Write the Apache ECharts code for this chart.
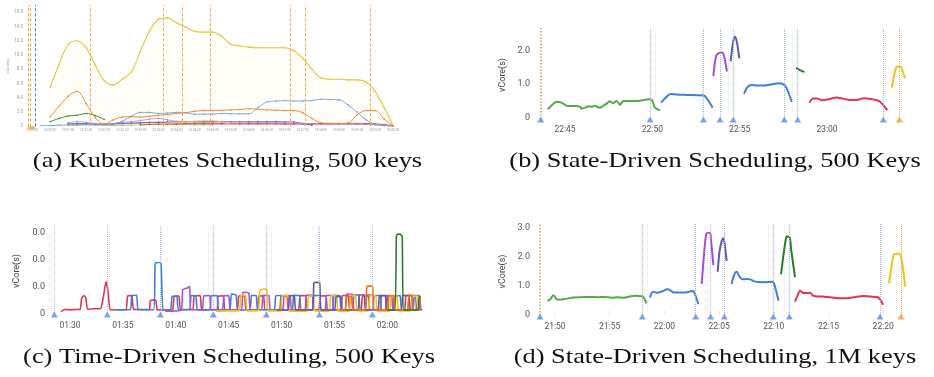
<!DOCTYPE html>
<html><head><meta charset="utf-8">
<script src="https://cdn.jsdelivr.net/npm/echarts@6/dist/echarts.min.js"></script>
<style>html,body{margin:0;padding:0;background:#fff}#c{width:934px;height:377px}</style>
</head><body><div id="c"></div>
<script>
// ---------- Panel (a): Kubernetes Scheduling, 500 keys (seconds after 23:50:00) ----------
const timesA = [0,15,30,45,60,75,90,105,120,135,150,165,180,195,210,225,240,255,270,285,300,315,330,345,360,375,390,405,420,435,450,465,480,495,510,525,540,555,570,585,600];
const tickA = [0,30,60,90,120,150,180,210,240,270,300,330,360,390,420,450,480,510,540,570,600];
const labelsA = ['23:50:00','23:50:30','23:51:00','23:51:30','23:52:00','23:52:30','23:53:00','23:53:30','23:54:00','23:54:30','23:55:00','23:55:30','23:56:00','23:56:30','23:57:00','23:57:30','23:58:00','23:58:30','23:59:00','23:59:30','00:00:00'];
const yTickA = [0,2,4,6,8,10,12,14,16];
const yellowA = [null,null,5.4,8.7,11.5,12.0,11.0,8.6,6.4,5.8,6.6,7.6,10.5,13.3,15.0,15.2,14.5,13.9,13.3,13.2,13.2,12.6,11.5,11.3,11.1,11.0,11.0,11.0,11.0,10.6,9.5,8.0,6.8,6.6,6.6,6.5,6.5,6.2,4.9,2.6,0.05];
const orangeA = [null,null,1.3,2.8,4.2,4.9,3.2,1.2,0.3,0.9,1.3,1.35,1.3,1.4,1.55,1.65,1.8,1.9,2.1,2.2,2.2,2.25,2.3,2.35,2.45,2.4,2.3,2.25,2.2,2.2,1.9,1.1,0.5,0.4,0.4,0.45,1.6,2.2,2.2,1.0,0.1];
const greenA = [null,null,0.65,1.1,1.45,1.55,1.8,1.5,0.95,null,null,null,null,null,null,null,null,null,null,null,null,null,null,null,null,null,null,null,null,null,null,null,null,null,null,null,null,null,null,null,null];
const blueA = [null,0.1,0.1,0.15,0.2,0.2,0.25,0.2,0.2,0.35,0.7,1.4,1.95,1.95,1.8,1.85,1.95,1.9,1.7,1.7,1.7,1.8,1.75,1.75,1.75,2.6,3.4,3.55,3.6,3.55,3.55,3.6,3.8,3.75,3.7,3.0,2.0,0.9,0.3,0.1,0.05];
const purpleA = [null,null,null,null,0.5,0.65,0.55,0.4,0.3,0.4,0.55,0.65,0.8,1.0,1.1,0.9,0.7,0.65,0.6,0.55,0.55,0.6,0.6,0.6,0.55,0.55,0.5,0.5,0.5,0.45,0.4,0.35,0.3,0.3,0.3,0.3,0.3,0.25,0.2,0.1,0.05];
const navyA = [null,null,null,null,0.35,0.4,0.35,0.3,0.3,0.35,0.4,0.45,0.5,0.55,0.55,0.6,0.62,0.62,0.65,0.65,0.65,0.65,0.65,0.65,0.65,0.65,0.65,0.65,0.62,0.6,0.4,0.15,null,null,null,null,null,null,null,null,null];
const pinkA = [null,null,null,null,0.25,0.3,0.35,0.3,0.25,0.3,0.35,0.4,0.45,0.5,0.55,0.5,0.45,0.4,0.4,0.4,0.35,0.35,0.35,0.35,0.35,0.35,0.35,0.35,0.3,0.3,0.3,0.3,0.3,0.3,0.3,0.3,0.3,0.3,0.25,0.15,0.05];
const redA = [null,null,null,null,null,null,null,null,null,null,null,null,0.2,0.25,0.3,0.3,0.3,0.35,0.35,0.35,0.35,0.35,0.35,0.35,0.35,0.35,0.35,0.35,0.35,0.35,0.35,0.35,0.4,0.4,0.4,0.4,0.4,0.4,0.35,0.25,0.1];
const yellow2A = [null,null,null,null,null,null,null,null,null,null,null,null,null,null,null,0.45,0.55,0.6,0.7,0.8,0.8,0.6,0.3,null,null,null,null,null,null,null,null,null,null,null,null,null,null,null,null,null,null];
const greenLtA = [null,null,null,null,0.1,0.15,0.2,0.2,0.15,0.1,0.1,0.15,0.2,0.25,0.3,0.3,0.3,0.25,0.2,0.2,0.2,null,null,null,null,null,null,null,null,null,null,null,null,null,null,null,null,null,null,null,null];
const eventsA = [-5.8,-3.3,5,96.3,218.3,248.8,295.7,429.7,453.5,561.5];
const markerA = [-1];

// ---------- Panel (b): State-Driven Scheduling, 500 Keys (minutes after 22:45) ----------
const tickB = [0,5,10,15];
const labelsB = ['22:45','22:50','22:55','23:00'];
const yTickB = [0,1,2];
const greenB = [[-0.99,0.25],[-0.7,0.4],[-0.48,0.48],[-0.2,0.45],[0.1,0.36],[0.5,0.35],[0.86,0.33],[0.95,0.27],[1.15,0.3],[1.34,0.34],[1.55,0.33],[1.72,0.36],[1.85,0.32],[2.0,0.3],[2.2,0.36],[2.39,0.42],[2.55,0.49],[2.75,0.44],[2.96,0.5],[3.15,0.38],[3.3,0.49],[3.5,0.5],[3.8,0.5],[4.1,0.5],[4.48,0.52],[4.77,0.55],[4.96,0.54],[5.15,0.3],[5.44,0.22]];
const blue1B = [[5.5,0.45],[5.8,0.62],[6.05,0.71],[6.4,0.69],[7.0,0.68],[7.6,0.67],[7.95,0.66],[8.15,0.55],[8.45,0.3]];
const purpleB = [[8.49,1.24],[8.65,1.85],[8.8,1.93],[9.0,1.95],[9.1,1.85],[9.27,1.38]];
const slateB = [[9.48,1.68],[9.62,2.25],[9.72,2.42],[9.82,2.3],[9.98,1.77]];
const blue2B = [[10.25,0.71],[10.45,0.92],[10.7,0.98],[11.0,0.96],[11.4,0.96],[11.8,0.99],[12.2,1.03],[12.45,1.01],[12.65,0.92],[12.98,0.47]];
const dgreenB = [[13.22,1.49],[13.45,1.42],[13.7,1.36]];
const redB = [[13.99,0.45],[14.2,0.57],[14.45,0.57],[14.7,0.52],[15.1,0.55],[15.55,0.6],[15.9,0.57],[16.3,0.53],[16.7,0.53],[17.1,0.58],[17.5,0.56],[17.85,0.52],[18.05,0.47],[18.45,0.23]];
const yellowB = [[18.7,0.9],[18.9,1.4],[19.0,1.52],[19.2,1.52],[19.32,1.4],[19.46,1.18]];
const eventsB = [-1.39,4.87,7.92,8.87,9.63,12.55,13.32,18.22,19.14];

// ---------- Panel (c): Time-Driven Scheduling, 500 Keys (minutes after 01:30) ----------
const tickC = [0,5,10,15,20,25,30];
const labelsC = ['01:30','01:35','01:40','01:45','01:50','01:55','02:00'];
const yTickC = [0,0.01,0.02,0.03];
const redC = [[-0.85,0.0006],[-0.5,0.0014],[0,0.0013],[0.5,0.0014],[0.95,0.0014],[1.1,0.0055],[1.3,0.0066],[1.5,0.0058],[1.65,0.0015],[2.2,0.0017],[2.9,0.0018],[3.15,0.006],[3.4,0.0118],[3.6,0.008],[3.8,0.0013],[4.5,0.0013],[5.3,0.0014],[5.45,0.0065],[5.85,0.0066],[6.0,0.0015],[6.7,0.0014],[7.5,0.0015],[7.6,0.0048],[8.1,0.0049],[8.25,0.0013],[9.0,0.0012],[9.7,0.0014],[9.85,0.0063],[10.3,0.0064],[10.45,0.0015],[11.6,0.0014],[11.75,0.0065],[12.3,0.0066],[12.45,0.0014],[13.0,0.0013],[13.9,0.0014],[14.0,0.0064],[14.5,0.0065],[14.65,0.0013],[15.8,0.0013],[15.95,0.0064],[16.5,0.0065],[16.65,0.0012],[17.7,0.0013],[17.85,0.0065],[18.3,0.0064],[18.45,0.0013],[19.8,0.0012],[19.95,0.0064],[20.5,0.0065],[20.65,0.0013],[21.6,0.0013],[21.75,0.0066],[22.3,0.0065],[22.45,0.0014],[23.5,0.0013],[23.65,0.0064],[24.2,0.0065],[24.35,0.0012],[25.6,0.0013],[25.75,0.0066],[26.3,0.0066],[26.45,0.0014],[27.5,0.0013],[27.65,0.0065],[28.2,0.0064],[28.35,0.0013],[29.3,0.0012],[29.45,0.0066],[30.0,0.0066],[30.15,0.0013],[31.6,0.0012],[31.75,0.0064],[32.3,0.0067],[32.45,0.0014],[33.3,0.0013]];
const blueC = [[4.25,0.0013],[5.7,0.0013],[5.85,0.0066],[6.3,0.0067],[6.45,0.0013],[7.9,0.0013],[8.05,0.0185],[8.3,0.0189],[8.6,0.0186],[8.8,0.0013],[9.5,0.0013],[9.65,0.0063],[10.1,0.0064],[10.25,0.0013],[11.3,0.0013],[11.45,0.0066],[11.9,0.0065],[12.05,0.0012],[13.2,0.0013],[13.35,0.0065],[13.9,0.0066],[14.05,0.0013],[15.1,0.0014],[15.25,0.0072],[15.7,0.0068],[15.85,0.0012],[17.0,0.0013],[17.15,0.0066],[17.6,0.0066],[17.75,0.0013],[19.3,0.0013],[19.45,0.0065],[19.9,0.0066],[20.05,0.0012],[21.0,0.0012],[21.15,0.0067],[21.7,0.0066],[21.85,0.0013],[22.9,0.0013],[23.05,0.0066],[23.6,0.0066],[23.75,0.0012],[24.8,0.0012],[24.95,0.0067],[25.5,0.0065],[25.65,0.0013],[26.7,0.0013],[26.85,0.0068],[27.3,0.0068],[27.45,0.0013],[28.6,0.0013],[28.75,0.0066],[29.3,0.0066],[29.45,0.0012],[30.5,0.0012],[30.65,0.0066],[31.2,0.0065],[31.35,0.0013],[32.4,0.0013],[32.55,0.0066],[33.0,0.0066],[33.15,0.0013]];
const purpleC = [[9.0,0.0008],[10.5,0.0012],[10.65,0.0088],[10.9,0.0092],[11.1,0.0094],[11.3,0.01],[11.45,0.0013],[12.5,0.0013],[12.65,0.0065],[13.2,0.0066],[13.35,0.0013],[14.4,0.0012],[14.55,0.0065],[15.0,0.0066],[15.15,0.0013],[16.2,0.0013],[16.35,0.0078],[16.9,0.0075],[17.05,0.0013],[18.1,0.0013],[18.25,0.0067],[18.8,0.0066],[18.95,0.0012],[20.1,0.0012],[20.25,0.0066],[20.8,0.0066],[20.95,0.0013],[22.2,0.0013],[22.35,0.0068],[22.9,0.0067],[23.05,0.0012],[24.1,0.0012],[24.25,0.0066],[24.8,0.0067],[24.95,0.0013],[26.0,0.0013],[26.15,0.0072],[26.7,0.0071],[26.85,0.0012],[27.9,0.0012],[28.05,0.0068],[28.6,0.0068],[28.75,0.0012],[29.8,0.0013],[29.95,0.0066],[30.4,0.0065],[30.55,0.0013],[31.9,0.0013],[32.05,0.0065],[32.6,0.0066],[32.75,0.0013]];
const yellowC = [[13.8,0.0008],[15.0,0.0009],[16.0,0.0009],[16.15,0.0066],[16.6,0.0066],[16.75,0.0009],[17.8,0.0009],[17.95,0.0085],[18.3,0.009],[18.6,0.0088],[18.75,0.0009],[19.9,0.0009],[20.05,0.0066],[20.6,0.0066],[20.75,0.0008],[22.4,0.0008],[22.55,0.0064],[23.0,0.0064],[23.15,0.0009],[24.5,0.0008],[24.65,0.0065],[25.2,0.0066],[25.35,0.0008],[26.4,0.0008],[26.55,0.0064],[27.0,0.0065],[27.15,0.0009],[28.2,0.0009],[28.35,0.0066],[28.9,0.0065],[29.05,0.0008],[30.2,0.0008],[30.35,0.0066],[30.9,0.0066],[31.05,0.0009],[32.2,0.0009],[32.35,0.0063],[32.8,0.0064],[32.95,0.0009]];
const slateC = [[19.5,0.0012],[20.6,0.0012],[20.75,0.0065],[21.2,0.0066],[21.35,0.0012],[22.9,0.0012],[23.05,0.0112],[23.3,0.0115],[23.6,0.0114],[23.75,0.0012],[25.0,0.0012],[25.15,0.0063],[25.6,0.0063],[25.75,0.0012],[27.2,0.0012],[27.35,0.0068],[27.8,0.0069],[27.95,0.0012],[29.1,0.0012],[29.25,0.0066],[29.8,0.0065],[29.95,0.0012],[31.3,0.0012],[31.45,0.0066],[32.0,0.0066],[32.15,0.0012]];
const orangeC = [[25.5,0.0012],[26.0,0.0012],[26.15,0.0062],[26.6,0.0063],[26.75,0.0012],[27.9,0.0012],[28.05,0.0098],[28.3,0.0101],[28.6,0.01],[28.75,0.0012],[30.0,0.0012],[30.15,0.0064],[30.6,0.0065],[30.75,0.0012],[31.9,0.0012],[32.05,0.0066],[32.3,0.0068],[32.45,0.0012],[33.0,0.0012],[33.1,0.0066]];
const greenC = [[30.0,0.0012],[30.7,0.0012],[30.85,0.0285],[30.95,0.0295],[31.2,0.0294],[31.4,0.0285],[31.55,0.0012],[32.5,0.0012],[32.9,0.0012],[33.0,0.006],[33.1,0.0062]];
const eventsC = [-1.48,3.53,8.54,13.55,18.56,23.57,28.58];

// ---------- Panel (d): State-Driven Scheduling, 1M keys (minutes after 21:50) ----------
const tickD = [0,5,10,15,20,25,30];
const labelsD = ['21:50','21:55','22:00','22:05','22:10','22:15','22:20'];
const yTickD = [0,1,2,3];
const greenD = [[-0.7,0.49],[-0.45,0.53],[-0.15,0.68],[0.2,0.53],[0.8,0.54],[1.7,0.6],[2.9,0.62],[4.0,0.61],[4.5,0.62],[5.2,0.59],[5.7,0.61],[6.3,0.59],[6.8,0.63],[7.3,0.66],[7.9,0.64],[8.05,0.62],[8.38,0.4]];
const blue1D = [[8.68,0.6],[8.95,0.8],[9.3,0.76],[9.75,0.8],[10.3,0.88],[10.6,0.83],[10.85,0.77],[11.3,0.77],[11.75,0.77],[12.2,0.79],[12.5,0.82],[12.7,0.8],[13.1,0.37]];
const purpleD = [[13.41,1.06],[13.7,2.4],[13.87,2.8],[14.17,2.82],[14.25,2.6],[14.48,1.71]];
const slateD = [[14.87,1.48],[15.05,2.2],[15.25,2.55],[15.39,2.63],[15.5,2.45],[15.69,1.85]];
const blue2D = [[16.15,1.06],[16.35,1.35],[16.6,1.48],[16.9,1.3],[17.15,1.22],[17.5,1.23],[17.85,1.22],[18.2,1.15],[18.6,1.13],[19.2,1.12],[19.8,1.14],[20.0,1.1],[20.43,0.49]];
const dgreenD = [[20.66,1.39],[20.9,2.1],[21.1,2.6],[21.2,2.7],[21.45,2.65],[21.6,2.2],[21.94,1.29]];
const redD = [[21.94,0.46],[22.2,0.7],[22.4,0.83],[22.7,0.75],[23.3,0.76],[23.6,0.66],[24.5,0.63],[25.3,0.6],[26.3,0.57],[27.2,0.6],[28.2,0.65],[28.8,0.63],[29.5,0.61],[30.0,0.35]];
const yellowD = [[30.53,1.08],[30.8,1.75],[30.99,2.09],[31.3,2.1],[31.54,2.09],[32.0,0.97]];
const eventsD = [-1.37,7.98,12.86,14.23,15.48,19.95,21.42,29.71,31.63];

// ---------- captions ----------
const captions = ['(a) Kubernetes Scheduling, 500 keys','(b) State-Driven Scheduling, 500 Keys','(c) Time-Driven Scheduling, 500 Keys','(d) State-Driven Scheduling, 1M keys'];

// ================= build =================
const C = {green:'#55a84a', blue:'#3e7fd9', purple:'#a24fd6', slate:'#6259a8', dgreen:'#2b7a2b', red:'#e2364c', yellow:'#f2c314', orange:'#f5760c'};
const lookup = (ticks, labels) => v => { const i = ticks.findIndex(t => Math.abs(t - v) < 1e-9); return i < 0 ? '' : labels[i]; };
const fmtY = v => v === 0 ? '0' : v.toFixed(1);

const grids = [
  {left:27, top:5, width:369, height:121.3},
  {left:537, top:28, width:378, height:94},
  {left:52, top:225, width:373, height:92},
  {left:537, top:224, width:378, height:95}
];
const xr = [[-8.3,604.65],[-1.603,20.034],[-1.701,33.554],[-1.645,32.907]];
const yr = [[0,17],[-0.128,2.678],[-0.001375,0.03283],[-0.137,3.116]];
const xt = [[tickA,labelsA],[tickB,labelsB],[tickC,labelsC],[tickD,labelsD]];
const yt = [yTickA,yTickB,yTickC,yTickD];

const xAxis = grids.map((g,i) => ({
  type:'value', gridIndex:i, min:xr[i][0], max:xr[i][1],
  axisLine:{show:false}, splitLine:{show:false},
  axisTick:{show:i>=2, inside:true, length:4, customValues:xt[i][0], lineStyle:{color:'#e4e4e4'}},
  axisLabel:{customValues:xt[i][0], formatter:lookup(xt[i][0], xt[i][1]),
    fontSize:i===0?3.2:8.5, color:i===0?'#999':'#555', margin:i===0?2.5:(i===2?4:3), fontFamily:'Roboto'}
}));
const yAxis = grids.map((g,i) => ({
  type:'value', gridIndex:i, min:yr[i][0], max:yr[i][1],
  axisLine:{show:false}, axisTick:{show:false}, splitLine:{show:false},
  axisLabel:{customValues:yt[i], formatter:fmtY, fontSize:i===0?4.5:9, color:i===0?'#999':'#555', margin:i===0?4:7, fontFamily:'Roboto'},
  name:'vCore(s)', nameLocation:'middle', nameGap:i===0?14:(i===2?31:30),
  nameTextStyle:{fontSize:i===0?4:9, color:i===0?'#999':'#444', fontFamily:'Roboto'}
}));

const series = [];
function line(xi, data, color, width, extra) {
  series.push(Object.assign({type:'line', xAxisIndex:xi, yAxisIndex:xi, data, symbol:'none', smooth:0.3,
    lineStyle:{color, width}, itemStyle:{color}, z:3, silent:true, animation:false}, extra||{}));
}
const pairA = arr => timesA.map((t,k) => [t, arr[k] == null ? '-' : arr[k]]);
const aOpts = {symbol:'circle', symbolSize:1.6, showSymbol:true, smooth:0.35};
line(0, pairA(greenLtA), '#9ccc65', 0.8, aOpts);
line(0, pairA(pinkA), '#d8609e', 0.8, aOpts);
line(0, pairA(redA), '#d8403a', 0.8, aOpts);
line(0, pairA(navyA), '#4b62ad', 0.8, aOpts);
line(0, pairA(purpleA), '#a98bd2', 0.8, aOpts);
line(0, pairA(yellow2A), '#e3d24a', 0.8, aOpts);
line(0, pairA(greenA), '#3d8b3d', 1, aOpts);
line(0, pairA(blueA), '#6fa3e0', 0.9, aOpts);
line(0, pairA(orangeA), '#f08a3c', 1, aOpts);
line(0, pairA(yellowA), '#e8c43a', 1.1, Object.assign({areaStyle:{color:'rgba(245,215,110,0.08)'}}, aOpts));

[[greenB,C.green],[blue1B,C.blue],[purpleB,C.purple],[slateB,C.slate],[blue2B,C.blue],[dgreenB,C.dgreen],[redB,C.red],[yellowB,C.yellow]].forEach(s => line(1, s[0], s[1], 2));
[[redC,C.red],[blueC,C.blue],[purpleC,'#a655d6'],[yellowC,'#f4c40c'],[slateC,C.slate],[orangeC,'#fb6d10'],[greenC,C.dgreen]].forEach(s => line(2, s[0], s[1], 1.6, {smooth:0.15}));
[[greenD,C.green],[blue1D,C.blue],[purpleD,C.purple],[slateD,C.slate],[blue2D,C.blue],[dgreenD,C.dgreen],[redD,C.red],[yellowD,C.yellow]].forEach(s => line(3, s[0], s[1], 2));

// event markers (vertical dotted lines + triangles)
function events(xi, times, colorOf, triColorOf, lineType, width) {
  series.push({type:'scatter', xAxisIndex:xi, yAxisIndex:xi, silent:true, animation:false, z:5,
    symbol:'triangle', symbolSize:[7,6], symbolOffset:[0,-2.5],
    data: triColorOf ? times.map((t,k) => ({value:[t, yr[xi][0]], itemStyle:{color:triColorOf(k, times.length)}})) : [],
    markLine:{silent:true, symbol:'none', animation:false, label:{show:false},
      data: times.map((t,k) => ({xAxis:t, lineStyle:{color:colorOf(k, times.length), type:lineType, width:(k===0&&xi!==0&&xi!==2)?1.6:width}}))}
  });
}
events(0, eventsA, k => k===2 ? '#4a7fd6' : '#f4a54c', null, [3,2], 1);
series.push({type:'scatter', xAxisIndex:0, yAxisIndex:0, silent:true, animation:false, z:6, symbol:'rect', symbolSize:[7,3.5], symbolOffset:[0,1.5],
  itemStyle:{color:'#f2a444'}, data: markerA.map(t => [t, 0])});
const bdColor = (k,n) => k===0 ? '#cfa583' : (k===n-1 ? '#f3a046' : '#9db7e3');
const triColor = (k,n) => k===n-1 ? '#f59a3c' : '#5a8fe8';
events(1, eventsB, bdColor, triColor, 'dotted', 1);
events(2, eventsC, () => '#9db7e3', () => '#5a8fe8', 'dotted', 1);
events(3, eventsD, bdColor, triColor, 'dotted', 1);

const capPos = [[227.5,161],[715,161],[229,357],[715,357]];
const graphic = captions.map((t,i) => ({type:'text', x:capPos[i][0], y:capPos[i][1], scaleX:1.2, silent:true,
  style:{text:t, fill:'#111', font:'normal 22px "Liberation Serif", "DejaVu Serif", serif', align:'center', verticalAlign:'middle'}}));

const chart = echarts.init(document.getElementById('c'), null, {renderer:'canvas'});
chart.setOption({animation:false, backgroundColor:'#fff', grid:grids, xAxis, yAxis, series, graphic});
</script></body></html>
